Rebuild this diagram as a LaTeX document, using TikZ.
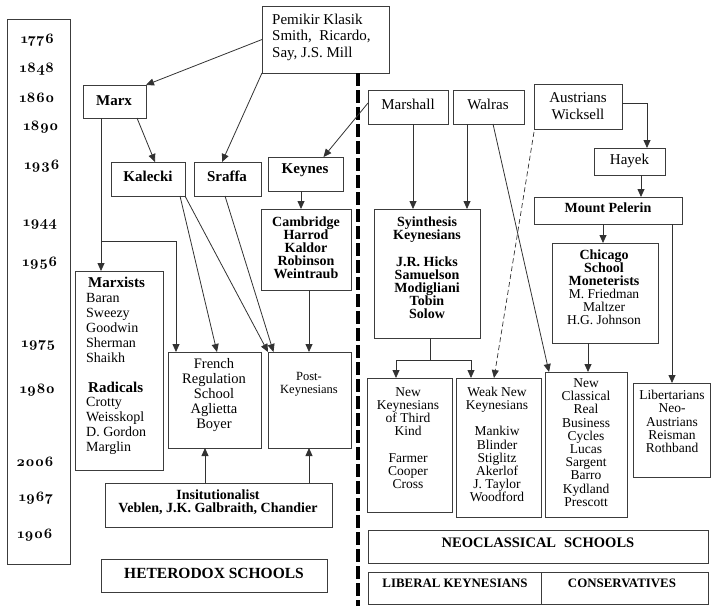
\documentclass[tikz,border=0pt]{standalone}
\usepackage{fontspec}
\setmainfont{Liberation Serif}
\newfontfamily\yearfont{lmroman10-bold}[Extension=.otf, Numbers=OldStyle]
\usetikzlibrary{arrows.meta}
\definecolor{boxc}{RGB}{60,60,60}
\definecolor{linec}{RGB}{50,50,50}
\newcommand\fs[2]{\fontsize{#1}{#2}\selectfont}
% box from its corners: name, x1, y1, x2, y2 (pixel-like units, y downwards)
\newcommand\mkbox[5]{\node[box, minimum width={#4-#2}, minimum height={#5-#3}] (#1) at ({(#2+#4)/2},{(#3+#5)/2}) {};}
\begin{document}
\begin{tikzpicture}[x=1pt,y=-1pt,
  box/.style={draw=boxc, line width=0.9pt, inner sep=0pt, outer sep=0pt},
  txt/.style={inner sep=0pt, align=center, text=black, font=\fs{13.5}{13.2}},
  yr/.style={inner sep=0pt, font={\yearfont\fs{14.5}{15}}},
  arr/.style={draw=linec, line width=0.8pt, -{Triangle[length=8pt,width=7pt]}},
  thin/.style={draw=linec, line width=0.8pt},
  divider/.style={draw=black, line width=3.3pt, dash pattern=on 13pt off 4pt},
]
\useasboundingbox (0,0) rectangle (711,606);

% ---- time line ----
\mkbox{years}{7}{19}{70}{564}
\node[yr] (y1776) at (37.5,40) {1776};
\node[yr] (y1848) at (37,69) {1848};
\node[yr] (y1860) at (37,98) {1860};
\node[yr] (y1890) at (41,127) {1890};
\node[yr] (y1936) at (42,166) {1936};
\node[yr] (y1944) at (40,224) {1944};
\node[yr] (y1956) at (40,263) {1956};
\node[yr] (y1975) at (38.5,345) {1975};
\node[yr] (y1980) at (37.5,390) {1980};
\node[yr] (y2006) at (35,462) {2006};
\node[yr] (y1967) at (36,498) {1967};
\node[yr] (y1906) at (35,535) {1906};

% ---- boxes ----
\mkbox{pem}{262}{6}{389}{73}
\mkbox{marx}{83}{85}{146}{118}
\mkbox{kalecki}{111}{162}{185}{196}
\mkbox{sraffa}{194}{162}{261}{196}
\mkbox{keynes}{268}{157}{343}{191}
\mkbox{cambridge}{261}{209}{351}{290}
\mkbox{marxists}{75}{271}{163}{470}
\mkbox{french}{168}{352}{261}{448}
\mkbox{post}{268}{352}{351}{448}
\mkbox{inst}{105}{483}{332}{527}
\mkbox{hetero}{101}{559}{327}{592}
\mkbox{marshall}{368}{90}{448}{124}
\mkbox{walras}{453}{90}{524}{124}
\mkbox{austrians}{534}{84}{622}{129}
\mkbox{hayek}{594}{148}{665}{175}
\mkbox{pelerin}{534}{197}{682}{224}
\mkbox{synth}{374}{209}{480}{338}
\mkbox{chicago}{552}{243}{658}{343}
\mkbox{nk3}{367}{378}{452}{512}
\mkbox{wnk}{456}{378}{541}{517}
\mkbox{ncl}{545}{372}{627}{517}
\mkbox{lib}{633}{383}{710}{477}
\mkbox{neo}{368}{530}{708}{563}
\mkbox{libk}{368}{572}{541}{604}
\mkbox{cons}{541}{572}{708}{604}

% ---- texts ----
\node[txt, anchor=west, align=left, font=\fs{15}{16.5}] (pem-t) at (272,37) {Pemikir Klasik\\Smith,\ \ Ricardo,\\Say, J.S. Mill};
\node[txt, font=\fs{15}{15}\bfseries] (marx-t) at (114,101) {Marx};
\node[txt, font=\fs{15}{15}\bfseries] (kalecki-t) at (148,176) {Kalecki};
\node[txt, font=\fs{15}{15}\bfseries] (sraffa-t) at (227,176) {Sraffa};
\node[txt, font=\fs{15}{15}\bfseries] (keynes-t) at (305,170) {Keynes};
\node[txt, font=\fs{14}{13}\bfseries] (cambridge-t) at (306,248) {Cambridge\\Harrod\\Kaldor\\Robinson\\Weintraub};
\node[txt, anchor=west, align=left, font=\fs{14}{14.9}] (marxists-t) at (86,366) {\hspace*{2pt}{\fs{15}{14.9}\bfseries Marxists}\\Baran\\Sweezy\\Goodwin\\Sherman\\Shaikh\\\mbox{}\\\hspace*{2pt}{\fs{15}{14.9}\bfseries Radicals}\\Crotty\\Weisskopl\\D. Gordon\\Marglin};
\node[txt, font=\fs{14.5}{15}] (french-t) at (214,395) {French\\Regulation\\School\\Aglietta\\Boyer};
\node[txt, font=\fs{12.5}{13}] (post-t) at (309,384.5) {Post-\\Keynesians};
\node[txt, font=\fs{14}{13}\bfseries] (inst-t) at (218,502.5) {Insitutionalist\\Veblen, J.K. Galbraith, Chandier};
\node[txt, font=\fs{15.5}{16}\bfseries] (hetero-t) at (214,573) {HETERODOX SCHOOLS};

\node[txt, font=\fs{15}{15}] (marshall-t) at (408,104) {Marshall};
\node[txt, font=\fs{15}{15}] (walras-t) at (488,104) {Walras};
\node[txt, font=\fs{15}{17}] (austrians-t) at (578,106.5) {Austrians\\Wicksell};
\node[txt, font=\fs{15}{15}] (hayek-t) at (629.5,161) {Hayek};
\node[txt, font=\fs{14}{14}\bfseries] (pelerin-t) at (608,208) {Mount Pelerin};
\node[txt, font=\fs{14}{13.2}\bfseries] (synth-t) at (427,268) {Syinthesis\\Keynesians\\\mbox{}\\J.R. Hicks\\Samuelson\\Modigliani\\Tobin\\Solow};
\node[txt, font=\fs{13.5}{13}] (chicago-t) at (604,287.5) {{\fs{14}{13}\bfseries Chicago}\\{\fs{14}{13}\bfseries School}\\{\fs{14}{13}\bfseries Moneterists}\\M. Friedman\\Maltzer\\H.G. Johnson};
\node[txt] (nk3-t) at (408,438) {New\\Keynesians\\of Third\\Kind\\\mbox{}\\Farmer\\Cooper\\Cross};
\node[txt] (wnk-t) at (497,444.5) {Weak New\\Keynesians\\\mbox{}\\Mankiw\\Blinder\\Stiglitz\\Akerlof\\J. Taylor\\Woodford};
\node[txt] (ncl-t) at (586,442.5) {New\\Classical\\Real\\Business\\Cycles\\Lucas\\Sargent\\Barro\\Kydland\\Prescott};
\node[txt] (lib-t) at (672,421.5) {Libertarians\\Neo-\\Austrians\\Reisman\\Rothband};
\node[txt, font=\fs{14.5}{15}\bfseries] (neo-t) at (538,543) {NEOCLASSICAL\hspace{8pt}SCHOOLS};
\node[txt, font=\fs{12.9}{13}\bfseries] (libk-t) at (455,583) {LIBERAL KEYNESIANS};
\node[txt, font=\fs{12.9}{13}\bfseries] (cons-t) at (622,583) {CONSERVATIVES};

% ---- dividing line between the two camps ----
\coordinate (dtop) at (358,73);
\coordinate (dbot) at (358,606);
\draw[divider] (dtop) -- (dbot);

% ---- heterodox connectors ----
\draw[arr] (pem.west) -- (marx.north east);
\draw[arr] (pem.south west) -- ([xshift=-5.5]sraffa.north);
\draw[arr] ([yshift=4]marshall.west) -- ([xshift=18]keynes.north);
\draw[arr] ([xshift=22.5]marx.south) -- ([xshift=7]kalecki.north);
\draw[arr] ([xshift=-13.5]marx.south) -- ([xshift=-18]marxists.north);
\coordinate (mbr) at (101,241);
\draw[arr] (mbr) -| ([xshift=-38.5]french.north);
\draw[arr] ([xshift=32]kalecki.south) -- ([xshift=2.5]french.north);
\draw[arr] (kalecki.south east) -- (post.north west);
\draw[arr] ([xshift=-2.5]sraffa.south) -- ([xshift=-36]post.north);
\draw[arr] ([xshift=-4.5]keynes.south) -- ([xshift=-5]cambridge.north);
\draw[arr] ([xshift=3]cambridge.south) -- ([xshift=-0.5]post.north);
\draw[arr] ([xshift=-13.5]inst.north) -- ([xshift=-9.5]french.south);
\draw[arr] ([xshift=90.5]inst.north) -- ([xshift=-0.5]post.south);

% ---- neoclassical connectors ----
\draw[arr] ([xshift=5]marshall.south) -- ([xshift=-14]synth.north);
\draw[arr] ([xshift=-21.5]walras.south) -- ([xshift=40]synth.north);
\draw[arr] ([xshift=4.5]walras.south) -- ([xshift=4]ncl.north west);
\draw[arr, dash pattern=on 5pt off 3pt, line width=0.7pt] ([yshift=-3]austrians.south west) -- ([xshift=-4.5]wnk.north);
\coordinate (sj) at (430,360);
\draw[thin] ([xshift=3]synth.south) -- (sj);
\draw[arr] (sj) -| ([xshift=-13.5]nk3.north);
\draw[arr] (sj) -| ([xshift=-27.5]wnk.north);
\draw[arr] ([yshift=3.5]austrians.east) -| ([xshift=17.5]hayek.north);
\draw[arr] ([xshift=11.5]hayek.south) -- ([xshift=33]pelerin.north);
\draw[arr] ([xshift=-5]pelerin.south) -- ([xshift=-2]chicago.north);
\draw[arr] ([xshift=64]pelerin.south) -- ([xshift=0.5]lib.north);
\draw[arr] ([xshift=-17]chicago.south) -- ([xshift=2]ncl.north);
\end{tikzpicture}
\end{document}
